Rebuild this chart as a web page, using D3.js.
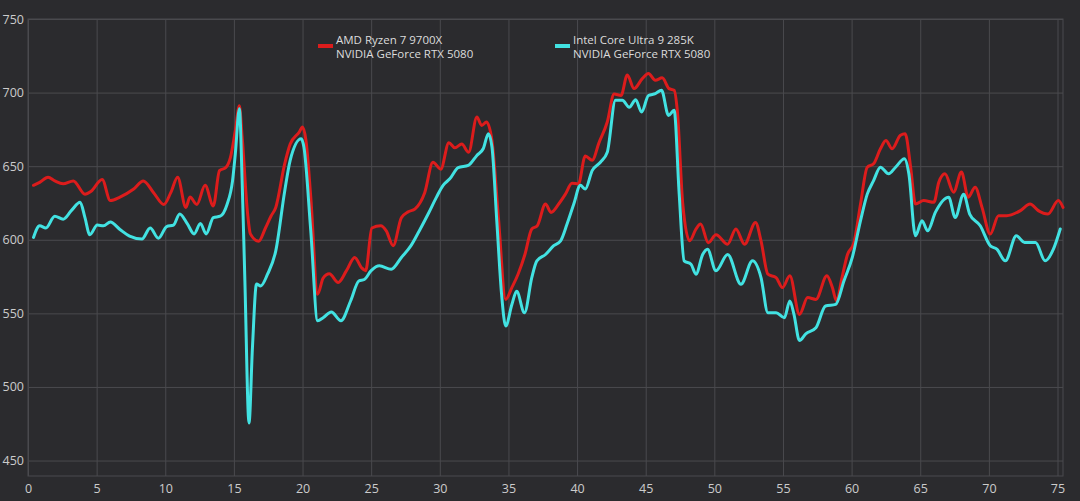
<!DOCTYPE html>
<html>
<head>
    <title>CPU comparison</title>
    <meta charset="UTF-8">
    <!-- link to D3.js -->
    <script src="https://d3js.org/d3.v7.min.js"></script>
    <style>
        body { margin: 0; background: #2b2b2e; }
        #myDiv { width: 1080px; height: 501px; }
    </style>
</head>

<body>
    <!-- div for SVG container/graph -->
    <div id="myDiv"></div>
</body>

<script>
    // AMD Ryzen 7 9700X series (time in s, value)
    var amdTime = [0.4, 0.85, 1.46, 1.95, 2.56, 3.3, 4.15, 4.6, 5.4, 6.0, 6.7, 7.7, 8.4, 9.15, 9.9, 10.4, 10.9, 11.5, 11.8, 12.3,
        12.9, 13.5, 13.95, 14.4, 14.75, 15.1, 15.4, 15.6, 16.0, 16.2, 16.8, 17.3, 17.7, 18.05, 18.7, 19.1, 19.75, 20.0, 20.25, 20.6,
        21.1, 21.5, 21.95, 22.6, 23.2, 23.8, 24.3, 24.6, 25.05, 25.7, 26.1, 26.6, 27.2, 27.7, 28.2, 28.9, 29.5, 30.07, 30.66, 31.1,
        31.6, 32.1, 32.7, 33.05, 33.4, 33.8, 34.27, 34.8, 35.25, 35.7, 36.2, 36.7, 37.1, 37.7, 38.1, 38.66, 39.15, 39.63, 40.1, 40.6,
        41.1, 41.6, 42.2, 42.7, 43.2, 43.66, 44.15, 44.75, 45.2, 45.7, 46.2, 46.7, 47.07, 47.3, 47.7, 48.2, 48.66, 49.0, 49.56, 50.12,
        50.97, 51.57, 52.2, 53.0, 53.4, 53.9, 54.5, 54.96, 55.5, 56.2, 56.8, 57.4, 58.2, 58.6, 58.9, 59.3, 59.7, 60.17, 60.65, 61.14,
        61.6, 62.1, 62.5, 62.95, 63.56, 63.9, 64.3, 64.65, 65.25, 66.0, 66.35, 66.8, 67.43, 68.0, 68.5, 69.0, 69.5, 70.1, 70.7, 71.3,
        72.3, 73.0, 73.6, 74.3, 75.06, 75.4];
    var amdValues = [637, 639, 642.5, 640, 638, 640, 631, 633, 641, 626.6, 629, 634.5, 640, 632, 624, 632, 642.5, 622, 629, 624,
        637, 623, 647, 649, 656, 674, 691, 670, 617.5, 604, 599, 608, 616, 622, 651.6, 665, 673, 676.6, 667.5, 629,
        563, 574, 577, 571, 579, 588, 581, 579, 608, 609.5, 606, 596, 615, 619, 621, 632, 652.7, 648, 666, 662.5,
        665, 659.5, 683.4, 677.7, 680, 667.5, 615, 559.5, 567.5, 576.6, 590, 607.3, 609.5, 624.3, 618.6, 624.3, 631, 638.4, 638, 657,
        654, 666, 680, 699, 698, 712, 702.7, 709.5, 713, 708.4, 710, 702.7, 701.6, 688, 624.3, 599.3, 607.3, 610.7, 598, 603.4,
        597, 607.3, 597, 611.8, 599.3, 576.6, 574.3, 567.5, 575.5, 549.3, 560.7, 559.5, 575.5, 567.5, 558.4, 574.3, 590, 598, 624.3, 649.3,
        651.6, 661.8, 667.5, 661.8, 671, 672, 649.3, 624.3, 626.6, 625.5, 639, 644.8, 632.3, 646, 628.9, 635.7, 622, 603.9, 616.4, 616.4,
        619.8, 624.3, 619.8, 617.5, 626.6, 622];

    // Intel Core Ultra 9 285K series (time in s, value)
    var intelTime = [0.4, 0.85, 1.3, 1.95, 2.56, 3.17, 3.8, 4.15, 4.5, 5.05, 5.5, 6.0, 6.7, 7.4, 8.3, 8.9, 9.5, 10.1, 10.6, 11.05,
        11.6, 12.1, 12.56, 12.98, 13.5, 14.0, 14.5, 14.9, 15.1, 15.4, 15.6, 15.8, 16.1, 16.35, 16.65, 16.95, 17.45, 18.05, 18.7, 19.1,
        19.9, 20.1, 20.6, 21.1, 21.5, 22.1, 22.8, 23.5, 24.1, 24.5, 25.0, 25.6, 26.46, 27.2, 27.9, 28.5, 29.15, 29.76, 30.24, 30.73,
        31.34, 32.07, 32.7, 33.17, 33.54, 33.8, 34.15, 34.5, 34.8, 35.25, 35.6, 36.17, 36.7, 37.07, 37.7, 38.3, 38.8, 39.27, 39.76, 40.24,
        40.6, 41.1, 41.7, 42.2, 42.8, 43.3, 43.8, 44.27, 44.7, 45.2, 45.7, 46.15, 46.66, 47.07, 47.44, 47.8, 48.3, 48.66, 49.15, 49.5,
        50.12, 50.97, 51.94, 52.78, 53.4, 53.9, 54.5, 55.1, 55.5, 55.8, 56.2, 56.66, 57.4, 58.1, 58.84, 59.44, 60.05, 60.65, 61.14, 61.6,
        62.1, 62.7, 63.2, 63.85, 64.17, 64.65, 65.13, 65.54, 66.1, 67.07, 67.55, 68.16, 68.6, 69.37, 70.1, 70.58, 71.2, 72.0, 72.6, 73.4,
        74.1, 74.7, 75.2];
    var intelValues = [601.6, 609.5, 608, 616, 614, 620, 625.5, 615, 603.4, 610, 609.5, 612, 607, 602.5, 600.5, 608, 601, 609, 610, 617.5,
        611, 604, 611, 604, 615, 616, 624, 640, 658, 689, 640, 572, 475.5, 526.6, 570, 568.6, 576.6, 592.5, 633, 654,
        668.6, 663, 606, 545, 547, 551, 545, 558.4, 572, 573, 579, 582.3, 580, 588, 596, 606, 617.5, 629, 637, 641.4,
        649, 650.5, 657.3, 662, 672, 663, 613, 563, 541.4, 556, 565, 550.4, 574.3, 585.7, 590, 596, 599.3, 610.7, 624.3, 637,
        634.5, 647, 652.7, 659.5, 694.8, 694.8, 690, 695.2, 686.8, 698, 699.3, 701.6, 684.5, 688, 631, 585.7, 583.4, 576.6, 590, 593.6,
        578.9, 590, 569.8, 585.7, 574.3, 550.5, 550.5, 547, 558.4, 549.3, 531.6, 536.1, 540.2, 555, 556.1, 572, 588, 613, 631, 640.2,
        649.3, 644.8, 649.3, 655, 644.8, 602.7, 613, 606.1, 618.6, 628.9, 615.2, 631, 617.5, 609.5, 595.9, 593.6, 585.7, 602.7, 598.2, 598.2,
        585.7, 593.6, 607.3];

    // tick labels
    var xTicks = [0, 5, 10, 15, 20, 25, 30, 35, 40, 45, 50, 55, 60, 65, 70, 75];
    var yTicks = [450, 500, 550, 600, 650, 700, 750];

    // legend entries
    var legendLines = [
        ["AMD Ryzen 7 9700X", "NVIDIA GeForce RTX 5080"],
        ["Intel Core Ultra 9 285K", "NVIDIA GeForce RTX 5080"]
    ];
    var seriesColours = ["#dc1c1c", "#42e2e2"];

    // some useful measurements saved as variables
    // (note: "top" is reserved on window, so plot edges get their own names)
    var width = 1080;
    var height = 501;
    var plotLeft = 28, plotRight = 1063, plotTop = 19, plotBottom = 476;
    var fontFam = "'Open Sans', 'Noto Sans', sans-serif";

    // scales
    var xScale = d3.scaleLinear().domain([0, 75.4]).range([plotLeft, plotRight]);
    var yScale = d3.scaleLinear().domain([439.5, 750]).range([plotBottom, plotTop]);

    var svgContainer = d3.select("#myDiv").append("svg")
        .attr("width", width)
        .attr("height", height);

    svgContainer.append("rect")
        .attr("width", width)
        .attr("height", height)
        .attr("fill", "#2b2b2e");

    // gridlines from axes
    svgContainer.append("g")
        .attr("transform", "translate(0," + plotBottom + ")")
        .call(d3.axisBottom(xScale).tickValues(xTicks).tickSize(-(plotBottom - plotTop)).tickFormat(""))
        .call(function(g) { g.select(".domain").remove(); })
        .selectAll("line")
            .attr("stroke", "#4a4a4e");

    svgContainer.append("g")
        .attr("transform", "translate(" + plotLeft + ",0)")
        .call(d3.axisLeft(yScale).tickValues(yTicks).tickSize(-(plotRight - plotLeft)).tickFormat(""))
        .call(function(g) { g.select(".domain").remove(); })
        .selectAll("line")
            .attr("stroke", "#4a4a4e");

    // plot border
    svgContainer.append("rect")
        .attr("x", plotLeft)
        .attr("y", plotTop)
        .attr("width", plotRight - plotLeft)
        .attr("height", plotBottom - plotTop)
        .attr("fill", "none")
        .attr("stroke", "#4a4a4e");

    // tick labels
    svgContainer.append("g")
        .attr("transform", "translate(0," + plotBottom + ")")
        .call(d3.axisBottom(xScale).tickValues(xTicks).tickSize(0).tickPadding(8))
        .call(function(g) { g.select(".domain").remove(); })
        .selectAll("text")
            .attr("fill", "#cccccc")
            .attr("font-family", fontFam)
            .attr("font-size", "12.5px");

    svgContainer.append("g")
        .attr("transform", "translate(" + plotLeft + ",0)")
        .call(d3.axisLeft(yScale).tickValues(yTicks).tickSize(0).tickPadding(4))
        .call(function(g) { g.select(".domain").remove(); })
        .selectAll("text")
            .attr("fill", "#cccccc")
            .attr("font-family", fontFam)
            .attr("font-size", "12.5px");

    // the two lines, cyan drawn last so it sits on top
    var lineGen = d3.line()
        .x(function(d) { return xScale(d[0]); })
        .y(function(d) { return yScale(d[1]); })
        .curve(d3.curveMonotoneX);

    var allSeries = [
        d3.zip(amdTime, amdValues),
        d3.zip(intelTime, intelValues)
    ];

    svgContainer.selectAll("path.series")
        .data(allSeries)
        .enter()
        .append("path")
            .attr("class", "series")
            .attr("d", lineGen)
            .attr("fill", "none")
            .attr("stroke", function(d, i) { return seriesColours[i]; })
            .attr("stroke-width", 3)
            .attr("stroke-linejoin", "round")
            .attr("stroke-linecap", "round");

    // legend
    var legendX = [318, 555];
    var legend = svgContainer.selectAll("g.legend")
        .data(legendLines)
        .enter()
        .append("g")
            .attr("class", "legend")
            .attr("transform", function(d, i) { return "translate(" + legendX[i] + ",0)"; });

    legend.append("line")
        .attr("x1", 0)
        .attr("x2", 15)
        .attr("y1", 46)
        .attr("y2", 46)
        .attr("stroke", function(d, i) { return seriesColours[i]; })
        .attr("stroke-width", 4);

    legend.selectAll("text")
        .data(function(d) { return d; })
        .enter()
        .append("text")
            .attr("x", 18)
            .attr("y", function(d, i) { return 44 + i * 14; })
            .attr("fill", "#dcdcdc")
            .attr("font-family", fontFam)
            .attr("font-size", "11.5px")
            .text(function(d) { return d; });
</script>

</html>
